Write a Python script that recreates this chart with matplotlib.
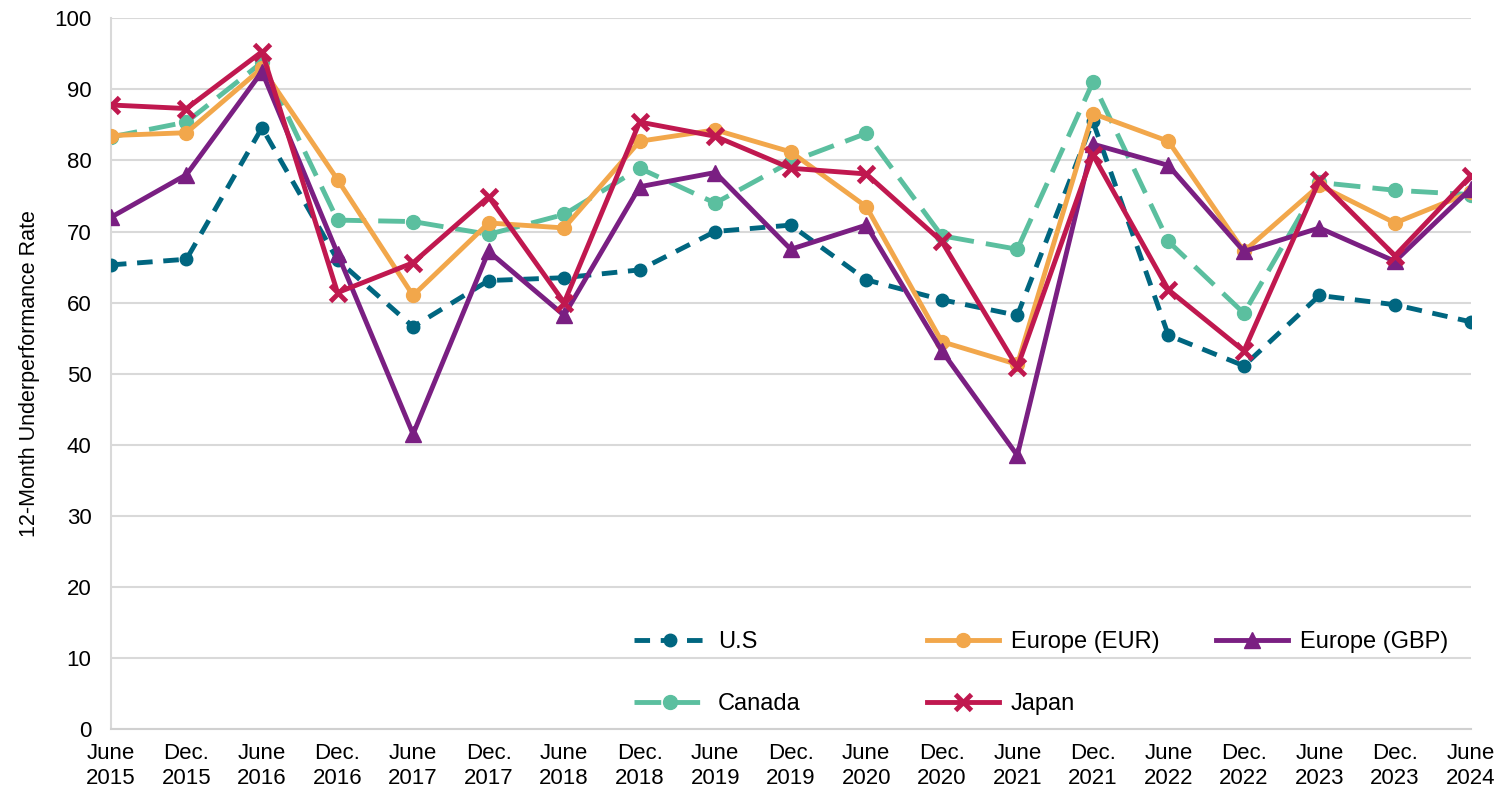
import matplotlib.pyplot as plt
from matplotlib.legend import Legend

plt.rcParams['font.family'] = ['Liberation Sans', 'DejaVu Sans']

# periods on the x axis
periods = ['June\n2015', 'Dec.\n2015', 'June\n2016', 'Dec.\n2016', 'June\n2017', 'Dec.\n2017',
           'June\n2018', 'Dec.\n2018', 'June\n2019', 'Dec.\n2019', 'June\n2020', 'Dec.\n2020',
           'June\n2021', 'Dec.\n2021', 'June\n2022', 'Dec.\n2022', 'June\n2023', 'Dec.\n2023',
           'June\n2024']

us = [65.3, 66.1, 84.6, 66.0, 56.6, 63.1, 63.5, 64.6, 70.0, 70.9, 63.2, 60.4, 58.2, 85.5,
      55.4, 51.1, 61.0, 59.7, 57.3]
eur = [83.5, 83.9, 93.0, 77.3, 61.0, 71.2, 70.5, 82.7, 84.3, 81.2, 73.5, 54.5, 51.3, 86.6,
       82.7, 67.2, 76.5, 71.2, 75.5]
gbp = [72.0, 78.0, 92.5, 66.9, 41.5, 67.2, 58.2, 76.3, 78.3, 67.5, 70.9, 53.2, 38.5, 82.3,
       79.3, 67.2, 70.5, 65.8, 76.0]
canada = [83.3, 85.4, 93.8, 71.6, 71.4, 69.6, 72.4, 78.9, 74.0, 79.8, 83.8, 69.4, 67.5, 91.0,
          68.6, 58.5, 76.9, 75.8, 75.2]
japan = [87.8, 87.3, 95.3, 61.4, 65.6, 74.9, 60.0, 85.4, 83.4, 78.9, 78.1, 68.6, 50.9, 80.8,
         61.8, 53.2, 77.2, 66.6, 77.8]

x = list(range(len(periods)))

fig = plt.figure(figsize=(14.99, 7.95), dpi=100)
ax = fig.add_axes([0.074, 0.083, 0.907, 0.894])

lw = 3.5
l_us, = ax.plot(x, us, color='#006680', lw=lw, dashes=(3.2, 2.2), marker='o', ms=9,
                label='U.S', zorder=3)
l_eur, = ax.plot(x, eur, color='#f2a74b', lw=lw, marker='o', ms=10, label='Europe (EUR)', zorder=3)
l_gbp, = ax.plot(x, gbp, color='#7a1f82', lw=lw, marker='^', ms=11, label='Europe (GBP)', zorder=4)
l_can, = ax.plot(x, canada, color='#5bbf9f', lw=lw, dashes=(5.5, 2.5), marker='o', ms=10,
                 label='Canada', zorder=2)
l_jap, = ax.plot(x, japan, color='#c0184f', lw=lw, marker='x', ms=11, mew=3.5,
                 label='Japan', zorder=5)

ax.set_xlim(0, 18)
ax.set_ylim(0, 100)
ax.set_yticks(range(0, 101, 10))
ax.set_xticks(x)
ax.set_xticklabels(periods, fontsize=16, linespacing=1.25)
ax.tick_params(axis='y', labelsize=16, length=0, pad=14)
ax.tick_params(axis='x', length=0, pad=10)
ax.grid(axis='y', color='#d9d9d9', lw=1.5)
ax.set_axisbelow(True)
for s in ['top', 'right']:
    ax.spines[s].set_visible(False)
ax.spines['left'].set_color('#d9d9d9')
ax.spines['left'].set_linewidth(1.5)
ax.spines['bottom'].set_color('#d0d0d0')
ax.spines['bottom'].set_linewidth(1.5)
ax.set_ylabel('12-Month Underperformance Rate', fontsize=15.5, labelpad=10)

# legend laid out in three separate columns
cols = [([l_us, l_can], 0.385), ([l_eur, l_jap], 0.600), ([l_gbp], 0.813)]
for handles, xpos in cols:
    leg = Legend(ax, handles, [h.get_label() for h in handles], frameon=False, fontsize=17,
                 loc='upper left', bbox_to_anchor=(xpos, 0.138), borderaxespad=0, borderpad=0,
                 handlelength=3.05, labelspacing=1.7, handletextpad=0.5)
    ax.add_artist(leg)

fig.savefig('out.png', dpi=100)
